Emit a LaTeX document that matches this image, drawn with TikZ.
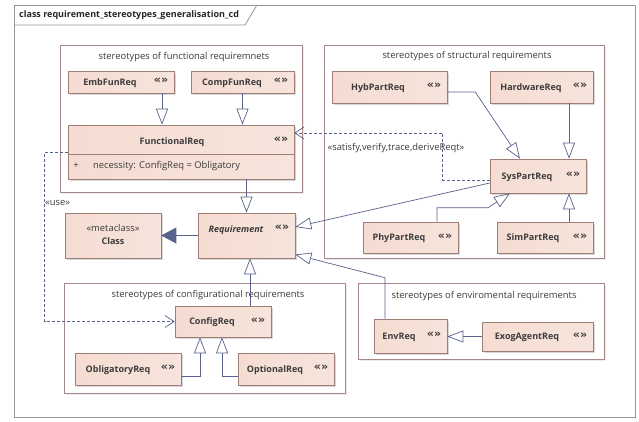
\documentclass[tikz,border=0pt]{standalone}
\usepackage{fontspec}
\setmainfont{Open Sans}
\newfontfamily\djv{DejaVu Sans}
\usetikzlibrary{arrows.meta,shadows,fit}
\definecolor{lnc}{RGB}{88,98,140}
\definecolor{bdc}{RGB}{160,125,118}
\definecolor{pkc}{RGB}{165,135,135}
\definecolor{fl}{RGB}{245,220,210}
\definecolor{fm}{RGB}{252,242,238}
\definecolor{fr}{RGB}{247,228,220}
\definecolor{frc}{RGB}{150,150,150}
\definecolor{txc}{RGB}{60,60,60}
\tikzset{
  umlbox/.style={draw=bdc, line width=0.6pt, left color=fl, middle color=fm, right color=fr, inner sep=0pt,
    drop shadow={shadow xshift=2pt, shadow yshift=-2pt, opacity=0.3, fill=gray}},
  pkg/.style={draw=pkc, line width=0.8pt, fill=white, inner sep=0pt,
    drop shadow={shadow xshift=1.5pt, shadow yshift=-1.5pt, opacity=0.15, fill=gray}},
  bname/.style={font=\fontsize{9}{11}\selectfont\bfseries, text=txc, inner sep=0pt},
  stereo/.style={font=\djv\fontsize{11}{12}\selectfont\bfseries, text=txc, inner sep=0pt},
  plabel/.style={font=\fontsize{9.4}{11}\selectfont, text=txc, inner sep=0pt},
  gen/.style={draw=lnc, line width=0.7pt, -{Triangle[open, length=16pt, width=12pt]}},
  ext/.style={draw=lnc, line width=0.7pt, -{Triangle[length=15pt, width=16pt]}},
  dep/.style={draw=lnc, line width=0.7pt, dash pattern=on 3pt off 2pt, -{Straight Barb[length=9pt, width=12pt]}}
}
\newcommand\umlnode[7]{%
  \node[umlbox, fit={(#2,#3)(#4,#5)}] (#1) {};
  \node[bname] (#1-n) at (#7,{(#3+#5)/2+1}) {#6};
  \node[stereo] (#1-s) at ({#4-13},{(#3+#5)/2-1}) {«»};}
\begin{document}
\begin{tikzpicture}[x=1pt,y=-1pt]
\useasboundingbox (0,0) rectangle (639,421);
\fill[white] (0,0) rectangle (639,421);
% frame
\draw[frc, line width=0.8pt] (14,5) rectangle (635,417);
\draw[frc, line width=0.8pt] (14,25) -- (245,25) -- (257,5);
\node[font=\fontsize{9}{10}\selectfont\bfseries, anchor=west, inner sep=0pt, text=black!85] (title) at (19,15.5) {class requirement\_stereotypes\_generalisation\_cd};
% packages
\node[pkg, fit={(60,45)(302,192)}] (pfun) {};
\node[plabel] (pfun-l) at (184,57) {stereotypes of functional requiremnets};
\node[pkg, fit={(324,45)(604,258)}] (pstr) {};
\node[plabel] (pstr-l) at (467,56) {stereotypes of structural requirements};
\node[pkg, fit={(64,283)(345,393)}] (pcfg) {};
\node[plabel] (pcfg-l) at (208,295) {stereotypes of configurational requirements};
\node[pkg, fit={(358,283)(604,359)}] (penv) {};
\node[plabel] (penv-l) at (484,296) {stereotypes of enviromental requirements};
% boxes
\umlnode{emb}{68}{71}{174}{93}{EmbFunReq}{110}
\umlnode{comp}{191}{71}{294}{93}{CompFunReq}{232}
\node[umlbox, fit={(68,125)(294,179)}] (func) {};
\draw[bdc, line width=0.6pt] ([yshift=-2pt]func.west) -- ([yshift=-2pt]func.east);
\node[bname] (func-n) at (172,142) {FunctionalReq};
\node[stereo] (func-s) at (281,140) {«»};
\node[plabel] (func-a1) at (76,166) {+};
\node[plabel, anchor=west] (func-a2) at (93,166) {necessity: ConfigReq = Obligatory};
\node[umlbox, fit={(65,213)(161,258)}] (cls) {};
\node[plabel] (cls-m) at (113,228) {«metaclass»};
\node[bname] (cls-n) at (113,241) {Class};
\node[umlbox, fit={(198,213)(295,258)}] (req) {};
\node[bname, font=\fontsize{9}{11}\selectfont\bfseries\itshape] (req-n) at (236,230) {Requirement};
\node[stereo] (req-s) at (282,228) {«»};
\umlnode{hyb}{332}{71}{447}{103}{HybPartReq}{378}
\umlnode{hw}{490}{71}{593}{103}{HardwareReq}{531}
\umlnode{sys}{490}{159}{586}{193}{SysPartReq}{527}
\umlnode{phy}{363}{222}{458}{253}{PhyPartReq}{399}
\umlnode{sim}{497}{222}{593}{253}{SimPartReq}{533}
\umlnode{cfg}{175}{306}{271}{337}{ConfigReq}{212}
\umlnode{obl}{75}{353}{181}{385}{ObligatoryReq}{118}
\umlnode{opt}{238}{353}{334}{385}{OptionalReq}{275}
\umlnode{env}{374}{319}{447}{353}{EnvReq}{399}
\umlnode{exog}{482}{322}{593}{351}{ExogAgentReq}{527}
% connectors
\draw[gen] ([xshift=41pt]emb.south) -- ([xshift=41pt]emb.south |- func.north);
\draw[gen] (comp.south) -- (comp.south |- func.north);
\draw[gen] (req.north |- func.south) -- (req.north);
\draw[ext] (req.west) -- (cls.east);
\draw[gen] ([yshift=-5pt]hyb.east) -- ++(28,0) -- ([xshift=-18pt]sys.north);
\draw[gen] ([xshift=27.5pt]hw.south) -- ([xshift=27.5pt]hw.south |- sys.north);
\draw[gen] ([xshift=24pt]sim.north) -- ([xshift=24pt]sim.north |- sys.south);
\draw[gen] ([xshift=26.5pt]phy.north) -- ++(0,-14) -- ++(51,0) -- ([xshift=-28pt]sys.south);
\draw[gen] ([yshift=-7pt]sys.west) -- ([yshift=8.5pt]req.east);
\draw[gen] ([xshift=-25.5pt]env.north) -- ++(0,-41) -- ([yshift=-19pt]req.east);
\draw[gen] (exog.west) -- (exog.west -| env.east);
\draw[gen] ([xshift=3.5pt]req.south |- cfg.north) -- ([xshift=3.5pt]req.south);
\draw[gen] ([yshift=-7pt]obl.east) -| ([xshift=-23pt]cfg.south);
\draw[gen] ([yshift=-7pt]opt.west) -| ([xshift=-1pt]cfg.south);
\draw[dep] ([yshift=-4pt]sys.west) -- ++(-47,0) -- ++(0,-47) -- ([yshift=19pt]func.east);
\node[plabel] (dep1-l) at (396,148) {«satisfy,verify,trace,deriveReqt»};
\draw[dep] (func.west) -- ++(-23,0) |- (cfg.west);
\node[plabel, anchor=west] (dep2-l) at (45,203) {«use»};
\end{tikzpicture}
\end{document}
